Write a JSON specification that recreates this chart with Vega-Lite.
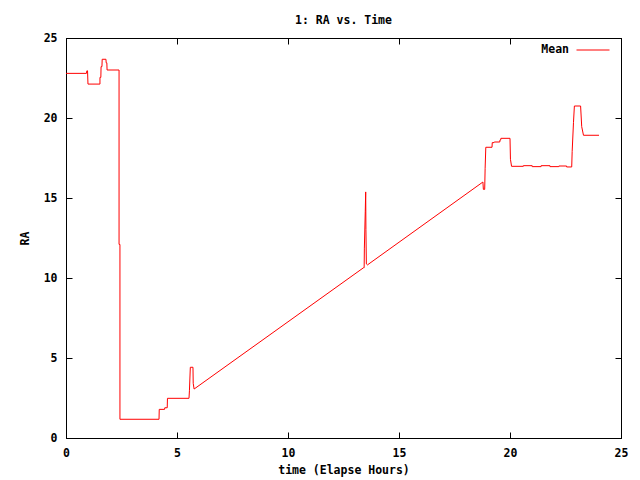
{
  "$schema": "https://vega.github.io/schema/vega-lite/v6.json",
  "width": 555,
  "height": 400,
  "autosize": {"type": "none"},
  "padding": {"left": 66, "top": 38, "right": 19, "bottom": 42},
  "background": "white",
  "title": {"text": "1: RA vs. Time", "fontSize": 11.5, "font": "DejaVu Sans Mono", "fontWeight": "bold", "color": "black", "offset": 6, "anchor": "middle"},
  "data": {"values": [
    {"i": 0, "t": 0.00, "ra": 22.79, "series": "Mean"},
    {"i": 1, "t": 0.92, "ra": 22.79, "series": "Mean"},
    {"i": 2, "t": 0.94, "ra": 22.95, "series": "Mean"},
    {"i": 3, "t": 0.97, "ra": 22.95, "series": "Mean"},
    {"i": 4, "t": 0.99, "ra": 22.12, "series": "Mean"},
    {"i": 5, "t": 1.53, "ra": 22.12, "series": "Mean"},
    {"i": 6, "t": 1.53, "ra": 22.54, "series": "Mean"},
    {"i": 7, "t": 1.57, "ra": 22.54, "series": "Mean"},
    {"i": 8, "t": 1.58, "ra": 23.21, "series": "Mean"},
    {"i": 9, "t": 1.62, "ra": 23.21, "series": "Mean"},
    {"i": 10, "t": 1.63, "ra": 23.67, "series": "Mean"},
    {"i": 11, "t": 1.80, "ra": 23.67, "series": "Mean"},
    {"i": 12, "t": 1.81, "ra": 23.45, "series": "Mean"},
    {"i": 13, "t": 1.84, "ra": 23.45, "series": "Mean"},
    {"i": 14, "t": 1.85, "ra": 23.0, "series": "Mean"},
    {"i": 15, "t": 2.39, "ra": 23.0, "series": "Mean"},
    {"i": 16, "t": 2.39, "ra": 12.1, "series": "Mean"},
    {"i": 17, "t": 2.43, "ra": 12.1, "series": "Mean"},
    {"i": 18, "t": 2.43, "ra": 1.17, "series": "Mean"},
    {"i": 19, "t": 4.19, "ra": 1.17, "series": "Mean"},
    {"i": 20, "t": 4.20, "ra": 1.79, "series": "Mean"},
    {"i": 21, "t": 4.44, "ra": 1.79, "series": "Mean"},
    {"i": 22, "t": 4.45, "ra": 1.89, "series": "Mean"},
    {"i": 23, "t": 4.56, "ra": 1.89, "series": "Mean"},
    {"i": 24, "t": 4.57, "ra": 2.48, "series": "Mean"},
    {"i": 25, "t": 5.54, "ra": 2.48, "series": "Mean"},
    {"i": 26, "t": 5.56, "ra": 2.95, "series": "Mean"},
    {"i": 27, "t": 5.60, "ra": 4.42, "series": "Mean"},
    {"i": 28, "t": 5.72, "ra": 4.42, "series": "Mean"},
    {"i": 29, "t": 5.73, "ra": 3.42, "series": "Mean"},
    {"i": 30, "t": 5.77, "ra": 3.06, "series": "Mean"},
    {"i": 31, "t": 13.40, "ra": 10.64, "series": "Mean"},
    {"i": 32, "t": 13.43, "ra": 10.64, "series": "Mean"},
    {"i": 33, "t": 13.44, "ra": 11.87, "series": "Mean"},
    {"i": 34, "t": 13.48, "ra": 14.14, "series": "Mean"},
    {"i": 35, "t": 13.50, "ra": 15.38, "series": "Mean"},
    {"i": 36, "t": 13.51, "ra": 13.04, "series": "Mean"},
    {"i": 37, "t": 13.53, "ra": 10.88, "series": "Mean"},
    {"i": 38, "t": 13.58, "ra": 10.82, "series": "Mean"},
    {"i": 39, "t": 18.78, "ra": 16.0, "series": "Mean"},
    {"i": 40, "t": 18.80, "ra": 15.54, "series": "Mean"},
    {"i": 41, "t": 18.86, "ra": 15.54, "series": "Mean"},
    {"i": 42, "t": 18.88, "ra": 16.86, "series": "Mean"},
    {"i": 43, "t": 18.91, "ra": 18.17, "series": "Mean"},
    {"i": 44, "t": 19.19, "ra": 18.17, "series": "Mean"},
    {"i": 45, "t": 19.20, "ra": 18.46, "series": "Mean"},
    {"i": 46, "t": 19.28, "ra": 18.46, "series": "Mean"},
    {"i": 47, "t": 19.29, "ra": 18.5, "series": "Mean"},
    {"i": 48, "t": 19.54, "ra": 18.5, "series": "Mean"},
    {"i": 49, "t": 19.55, "ra": 18.63, "series": "Mean"},
    {"i": 50, "t": 19.58, "ra": 18.63, "series": "Mean"},
    {"i": 51, "t": 19.59, "ra": 18.73, "series": "Mean"},
    {"i": 52, "t": 20.00, "ra": 18.73, "series": "Mean"},
    {"i": 53, "t": 20.02, "ra": 17.42, "series": "Mean"},
    {"i": 54, "t": 20.07, "ra": 16.98, "series": "Mean"},
    {"i": 55, "t": 20.60, "ra": 16.98, "series": "Mean"},
    {"i": 56, "t": 20.60, "ra": 17.02, "series": "Mean"},
    {"i": 57, "t": 21.00, "ra": 17.02, "series": "Mean"},
    {"i": 58, "t": 21.00, "ra": 16.96, "series": "Mean"},
    {"i": 59, "t": 21.40, "ra": 16.96, "series": "Mean"},
    {"i": 60, "t": 21.40, "ra": 17.02, "series": "Mean"},
    {"i": 61, "t": 21.80, "ra": 17.02, "series": "Mean"},
    {"i": 62, "t": 21.80, "ra": 16.96, "series": "Mean"},
    {"i": 63, "t": 22.20, "ra": 16.96, "series": "Mean"},
    {"i": 64, "t": 22.20, "ra": 17.0, "series": "Mean"},
    {"i": 65, "t": 22.55, "ra": 17.0, "series": "Mean"},
    {"i": 66, "t": 22.55, "ra": 16.94, "series": "Mean"},
    {"i": 67, "t": 22.78, "ra": 16.94, "series": "Mean"},
    {"i": 68, "t": 22.80, "ra": 17.9, "series": "Mean"},
    {"i": 69, "t": 22.86, "ra": 19.73, "series": "Mean"},
    {"i": 70, "t": 22.90, "ra": 20.75, "series": "Mean"},
    {"i": 71, "t": 23.18, "ra": 20.75, "series": "Mean"},
    {"i": 72, "t": 23.23, "ra": 19.46, "series": "Mean"},
    {"i": 73, "t": 23.31, "ra": 18.92, "series": "Mean"},
    {"i": 74, "t": 24.01, "ra": 18.92, "series": "Mean"}
  ]},
  "layer": [
    {
      "mark": {"type": "line", "strokeWidth": 1, "clip": true},
      "encoding": {
        "x": {"field": "t", "type": "quantitative", "scale": {"domain": [0, 25], "nice": false, "zero": false},
              "axis": {"orient": "bottom", "title": "time (Elapse Hours)", "values": [0, 5, 10, 15, 20, 25], "format": "d", "titlePadding": 6}},
        "y": {"field": "ra", "type": "quantitative", "scale": {"domain": [0, 25], "nice": false, "zero": false},
              "axis": {"orient": "left", "title": "RA", "values": [0, 5, 10, 15, 20, 25], "format": "d", "titlePadding": 13}},
        "order": {"field": "i", "type": "quantitative"},
        "color": {"field": "series", "type": "nominal", "scale": {"domain": ["Mean"], "range": ["#ff0000"]},
                  "legend": {"title": null, "orient": "none", "legendX": 510, "legendY": -5, "symbolType": "stroke", "symbolSize": 1089, "symbolStrokeWidth": 1, "labelAlign": "right", "labelOffset": -41, "padding": 0, "labelFontSize": 11.5, "labelFont": "DejaVu Sans Mono", "labelFontWeight": "bold", "labelColor": "black"}}
      }
    },
    {
      "mark": {"type": "line", "strokeOpacity": 0},
      "encoding": {
        "x": {"field": "t", "type": "quantitative", "scale": {"domain": [0, 25], "nice": false, "zero": false},
              "axis": {"orient": "top", "title": null, "labels": false, "values": [0, 5, 10, 15, 20, 25]}},
        "y": {"field": "ra", "type": "quantitative", "scale": {"domain": [0, 25], "nice": false, "zero": false},
              "axis": {"orient": "right", "title": null, "labels": false, "values": [0, 5, 10, 15, 20, 25]}},
        "order": {"field": "i", "type": "quantitative"}
      }
    }
  ],
  "resolve": {"axis": {"x": "independent", "y": "independent"}},
  "config": {
    "view": {"stroke": "black", "strokeWidth": 1},
    "axis": {"grid": false, "domainColor": "black", "domainWidth": 1, "tickColor": "black", "tickWidth": 1, "tickSize": -6,
             "labelFont": "DejaVu Sans Mono", "labelFontWeight": "bold", "labelFontSize": 11.5, "labelColor": "black", "labelPadding": 15,
             "titleFont": "DejaVu Sans Mono", "titleFontWeight": "bold", "titleFontSize": 11.5, "titleColor": "black", "labelFlush": false, "labelOverlap": false}
  }
}
